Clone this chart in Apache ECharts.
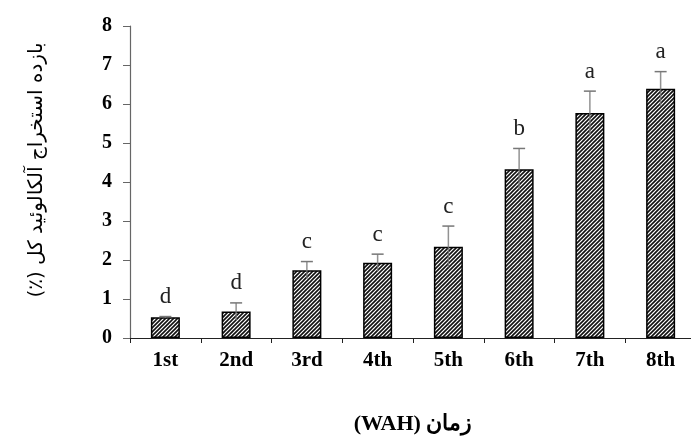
<!DOCTYPE html>
<html>
<head>
<meta charset="utf-8">
<script src="https://cdn.jsdelivr.net/npm/echarts@6/dist/echarts.min.js"></script>
<style>
html,body{margin:0;padding:0;background:#fff;}
#chart{width:691px;height:436px;}
</style>
</head>
<body>
<div id="chart"></div>
<script>
// ---- data ----
const categories = ['1st','2nd','3rd','4th','5th','6th','7th','8th'];
const yields = [0.53, 0.68, 1.74, 1.93, 2.34, 4.33, 5.77, 6.39];
const errors = [0.02, 0.22, 0.22, 0.22, 0.53, 0.53, 0.56, 0.44];
const letters = ['d','d','c','c','c','b','a','a'];
const yTicks = [0,1,2,3,4,5,6,7,8];
const xTitle = '(WAH) زمان';
const yTitle = '(٪) بازده استخراج آلکالوئید کل';

// hatch pattern
function hatch(){
  const s = 8, c = document.createElement('canvas');
  c.width = s; c.height = s;
  const g = c.getContext('2d');
  g.fillStyle = '#fff'; g.fillRect(0,0,s,s);
  g.strokeStyle = '#111'; g.lineWidth = 1.6;
  for (let k = -1; k <= 5; k++) {
    const cc = k*4;
    g.beginPath(); g.moveTo(cc+1, -1); g.lineTo(cc-s-1, s+1); g.stroke();
  }
  return c;
}

const chart = echarts.init(document.getElementById('chart'), null, {renderer:'canvas'});
const serif = '"Liberation Serif","Times New Roman",serif';
chart.setOption({
  animation:false,
  grid:{left:130, top:26, width:566, height:312, containLabel:false, outerBoundsMode:'none'},
  xAxis:{
    type:'category', data:categories,
    axisLine:{lineStyle:{color:'#222', width:1.2}},
    axisTick:{show:true, length:5, lineStyle:{color:'#222'}},
    axisLabel:{color:'#000', fontFamily:serif, fontWeight:'bold', fontSize:21, margin:12},
    name:xTitle, nameLocation:'middle', nameGap:75,
    nameTextStyle:{color:'#000', fontFamily:serif, fontWeight:'bold', fontSize:22}
  },
  yAxis:{
    type:'value', min:yTicks[0], max:yTicks[yTicks.length-1], interval:1,
    axisLine:{show:true, lineStyle:{color:'#666', width:1.2}},
    axisTick:{show:true, length:7, lineStyle:{color:'#666'}},
    splitLine:{show:false},
    axisLabel:{color:'#000', fontFamily:serif, fontWeight:'bold', fontSize:20, margin:18},
    name:yTitle, nameLocation:'middle', nameGap:83, nameRotate:90,
    nameTextStyle:{color:'#000', fontFamily:'"DejaVu Sans",sans-serif', fontSize:20, padding:[0,0,0,24]}
  },
  series:[
    {
      type:'bar', data:yields, barWidth:29,
      itemStyle:{color:{image:hatch(), repeat:'repeat'}, borderColor:'#000', borderWidth:1.5},
      z:2
    },
    {
      type:'custom', z:5,
      data:yields.map((v,i)=>[i, v, errors[i], letters[i]]),
      renderItem:function(params, api){
        const i = api.value(0), v = api.value(1), e = api.value(2);
        const top = api.coord([i, v+e]);
        const low = api.coord([i, v-e]);
        const x = top[0];
        return {type:'group', children:[
          {type:'line', shape:{x1:x, y1:low[1], x2:x, y2:top[1]}, style:{stroke:'#777', lineWidth:1.5, opacity:0.8}},
          {type:'line', shape:{x1:x-6, y1:top[1], x2:x+6, y2:top[1]}, style:{stroke:'#777', lineWidth:1.5}},
          {type:'text', style:{x:x, y:top[1]-8, text:letters[params.dataIndex], align:'center', verticalAlign:'bottom',
            fill:'#222', font:'23px ' + serif}}
        ]};
      }
    }
  ]
});
</script>
</body>
</html>
